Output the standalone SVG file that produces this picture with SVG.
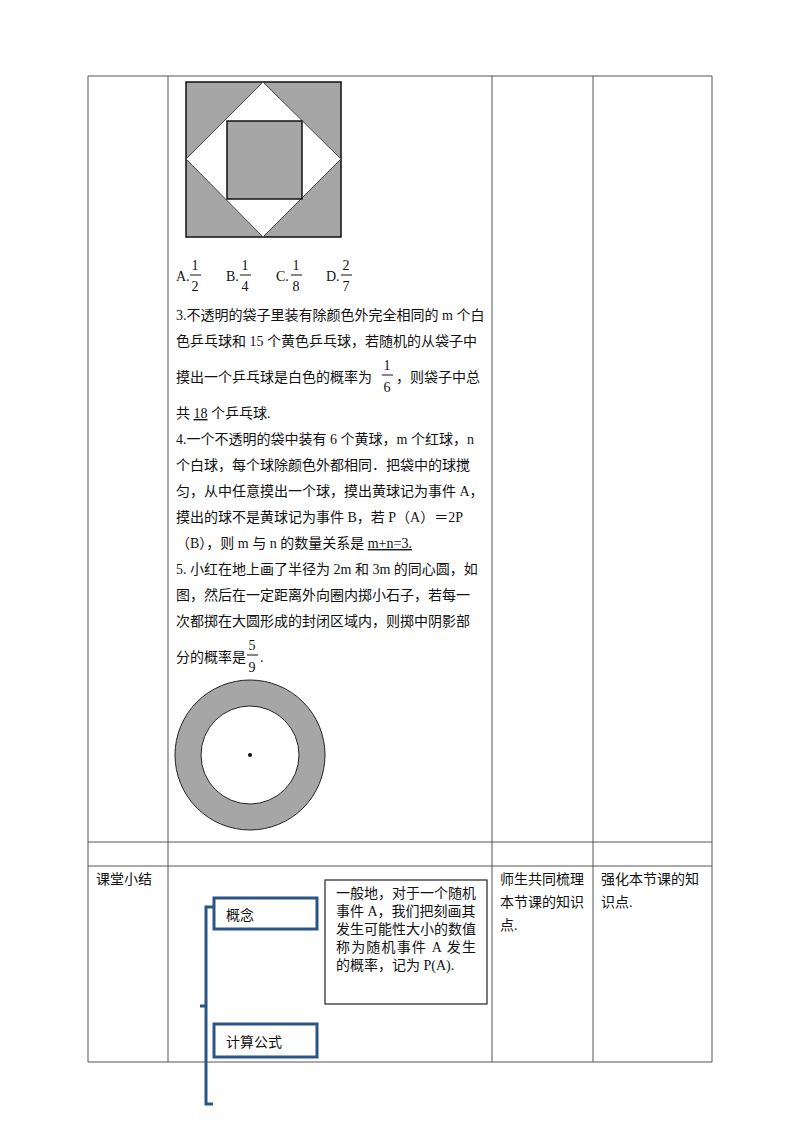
<svg xmlns="http://www.w3.org/2000/svg" width="800" height="1132" viewBox="0 0 800 1132">
<style>
text{font-family:"Liberation Serif","Noto Sans CJK SC",serif;font-size:14px;fill:#111}
.t{stroke:#555;stroke-width:1;fill:none}
.b{stroke:#2b5585;stroke-width:3;fill:#fff}
</style>
<rect width="800" height="1132" fill="#fff"/>
<g id="table" class="t">
<line x1="88" y1="76" x2="712" y2="76"/>
<line x1="88" y1="842" x2="712" y2="842"/>
<line x1="88" y1="866" x2="712" y2="866"/>
<line x1="88" y1="1062" x2="712" y2="1062"/>
<line x1="88" y1="76" x2="88" y2="1062"/>
<line x1="168" y1="76" x2="168" y2="1062"/>
<line x1="492" y1="76" x2="492" y2="1062"/>
<line x1="593" y1="76" x2="593" y2="1062"/>
<line x1="712" y1="76" x2="712" y2="1062"/>
</g>
<g id="fig1">
<rect x="186" y="82" width="155" height="155" fill="#a6a6a6" stroke="#111" stroke-width="1.5"/>
<polygon points="263,82 341,159 263,237 186,159" fill="#fff" stroke="#444"/>
<rect x="227" y="121" width="75" height="78" fill="#a6a6a6" stroke="#111" stroke-width="1.5"/>
</g>
<g id="text">
<text x="176" y="281">A.</text>
<text x="195" y="270" text-anchor="middle">1</text><line x1="190" y1="275" x2="201" y2="275" stroke="#111"/><text x="195" y="291" text-anchor="middle">2</text>
<text x="226" y="281">B.</text>
<text x="245" y="270" text-anchor="middle">1</text><line x1="240" y1="275" x2="251" y2="275" stroke="#111"/><text x="245" y="291" text-anchor="middle">4</text>
<text x="276" y="281">C.</text>
<text x="296" y="270" text-anchor="middle">1</text><line x1="291" y1="275" x2="302" y2="275" stroke="#111"/><text x="296" y="291" text-anchor="middle">8</text>
<text x="326" y="281">D.</text>
<text x="346" y="270" text-anchor="middle">2</text><line x1="341" y1="275" x2="352" y2="275" stroke="#111"/><text x="346" y="291" text-anchor="middle">7</text>
<text x="176" y="320">3.不透明的袋子里装有除颜色外完全相同的 m 个白</text>
<text x="176" y="346">色乒乓球和 15 个黄色乒乓球，若随机的从袋子中</text>
<text x="176" y="382">摸出一个乒乓球是白色的概率为</text>
<text x="387" y="370" text-anchor="middle">1</text><line x1="382" y1="375" x2="393" y2="375" stroke="#111"/><text x="387" y="392" text-anchor="middle">6</text>
<text x="396" y="382">，则袋子中总</text>
<text x="176" y="418">共 <tspan text-decoration="underline">18</tspan> 个乒乓球.</text>
<text x="176" y="444">4.一个不透明的袋中装有 6 个黄球，m 个红球，n</text>
<text x="176" y="470">个白球，每个球除颜色外都相同．把袋中的球搅</text>
<text x="176" y="496">匀，从中任意摸出一个球，摸出黄球记为事件 A，</text>
<text x="176" y="522">摸出的球不是黄球记为事件 B，若 P（A）＝2P</text>
<text x="176" y="548">（B），则 m 与 n 的数量关系是 <tspan text-decoration="underline">m+n=3.</tspan></text>
<text x="176" y="574">5. 小红在地上画了半径为 2m 和 3m 的同心圆，如</text>
<text x="176" y="600">图，然后在一定距离外向圈内掷小石子，若每一</text>
<text x="176" y="626">次都掷在大圆形成的封闭区域内，则掷中阴影部</text>
<text x="176" y="662">分的概率是</text>
<text x="252" y="650" text-anchor="middle">5</text><line x1="247" y1="655" x2="258" y2="655" stroke="#111"/><text x="252" y="672" text-anchor="middle">9</text>
<text x="260" y="662">.</text>
<text x="96" y="884">课堂小结</text>
<text x="500" y="884">师生共同梳理</text>
<text x="500" y="907">本节课的知识</text>
<text x="500" y="930">点.</text>
<text x="601" y="884">强化本节课的知</text>
<text x="601" y="907">识点.</text>
</g>
<g id="fig2">
<circle cx="250" cy="755" r="75" fill="#a6a6a6" stroke="#222"/>
<circle cx="250" cy="755" r="49" fill="#fff" stroke="#222"/>
<circle cx="250" cy="755" r="2" fill="#111"/>
</g>
<g id="connectors">
<path d="M213,907 H206 V1104 H213 M206,1006 H200" fill="none" stroke="#2b5585" stroke-width="3"/>
</g>
<g id="n1"><rect class="b" x="214" y="898" width="103" height="31"/><text x="226" y="920" font-family="Noto Sans CJK SC,sans-serif" font-size="16">概念</text></g>
<g id="n2"><rect class="b" x="214" y="1024" width="103" height="33"/><text x="226" y="1047" font-family="Noto Sans CJK SC,sans-serif" font-size="16">计算公式</text></g>
<g id="n3"><rect x="325" y="880" width="162" height="124" fill="#fff" stroke="#222" stroke-width="1.2"/>
<text x="336" y="898">一般地，对于一个随机</text>
<text x="336" y="916">事件 A，我们把刻画其</text>
<text x="336" y="934">发生可能性大小的数值</text>
<text x="336" y="952" textLength="140">称为随机事件 A 发生</text>
<text x="336" y="970">的概率，记为 P(A).</text>
</g>
</svg>
